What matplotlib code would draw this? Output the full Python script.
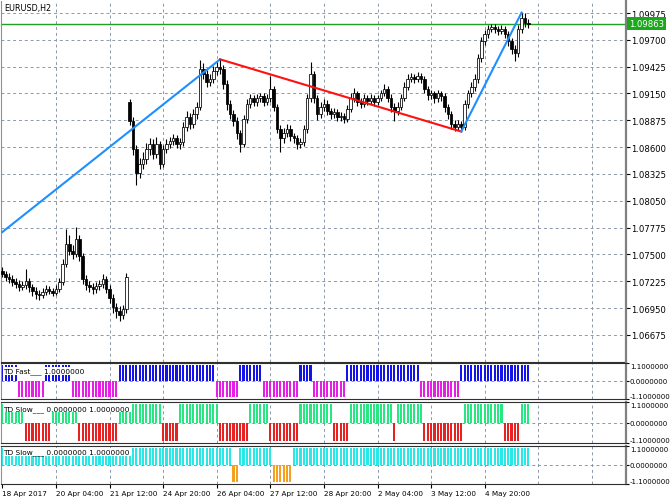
import numpy as np
import matplotlib.pyplot as plt
from matplotlib.transforms import blended_transform_factory

plt.rcParams['font.family'] = ['DejaVu Sans']
plt.rcParams['font.size'] = 6
plt.rcParams['axes.unicode_minus'] = False

W, H = 670, 502

# EURUSD H2 bars, first bar 18 Apr 2017 20:00
o = [1.0733, 1.0730, 1.0727, 1.0725, 1.0722, 1.0720, 1.0717, 1.0719, 1.0723, 1.0717,
     1.0713, 1.0710, 1.0708, 1.0712, 1.0715, 1.0713, 1.0711, 1.0715, 1.0722, 1.0740,
     1.0761, 1.0754, 1.0751, 1.0766, 1.0748, 1.0725, 1.0719, 1.0717, 1.0715, 1.0718,
     1.0720, 1.0725, 1.0715, 1.0705, 1.0696, 1.0692, 1.0688, 1.0694, 1.0906, 1.0887,
     1.0858, 1.0833, 1.0843, 1.0848, 1.0858, 1.0863, 1.0853, 1.0863, 1.0843, 1.0858,
     1.0863, 1.0866, 1.0869, 1.0863, 1.0865, 1.0881, 1.0891, 1.0884, 1.0894, 1.0901,
     1.0940, 1.0935, 1.0927, 1.0930, 1.0938, 1.0942, 1.0940, 1.0925, 1.0904, 1.0894,
     1.0887, 1.0874, 1.0863, 1.0889, 1.0904, 1.0910, 1.0906, 1.0910, 1.0912, 1.0906,
     1.0910, 1.0920, 1.0901, 1.0879, 1.0869, 1.0874, 1.0879, 1.0871, 1.0869, 1.0863,
     1.0865, 1.0879, 1.0910, 1.0935, 1.0910, 1.0894, 1.0901, 1.0904, 1.0897, 1.0894,
     1.0896, 1.0891, 1.0892, 1.0889, 1.0899, 1.0910, 1.0915, 1.0906, 1.0904, 1.0910,
     1.0907, 1.0910, 1.0906, 1.0910, 1.0915, 1.0920, 1.0910, 1.0901, 1.0897, 1.0901,
     1.0910, 1.0922, 1.0930, 1.0932, 1.0930, 1.0933, 1.0930, 1.0920, 1.0913, 1.0915,
     1.0910, 1.0915, 1.0912, 1.0901, 1.0894, 1.0884, 1.0881, 1.0884, 1.0881, 1.0904,
     1.0915, 1.0922, 1.0930, 1.0951, 1.0969, 1.0976, 1.0981, 1.0983, 1.0981, 1.0979,
     1.0981, 1.0976, 1.0969, 1.0961, 1.0956, 1.0981, 1.0992, 1.0987]
h = [1.0737, 1.0733, 1.0731, 1.0729, 1.0726, 1.0724, 1.0723, 1.0735, 1.0726, 1.0720,
     1.0717, 1.0714, 1.0716, 1.0719, 1.0718, 1.0716, 1.0719, 1.0726, 1.0745, 1.0776,
     1.0770, 1.0760, 1.0778, 1.0770, 1.0752, 1.0729, 1.0723, 1.0721, 1.0722, 1.0724,
     1.0730, 1.0728, 1.0719, 1.0709, 1.0700, 1.0697, 1.0698, 1.0731, 1.0909, 1.0891,
     1.0862, 1.0849, 1.0855, 1.0864, 1.0869, 1.0868, 1.0870, 1.0866, 1.0862, 1.0868,
     1.0870, 1.0873, 1.0872, 1.0869, 1.0886, 1.0897, 1.0895, 1.0899, 1.0906, 1.0949,
     1.0946, 1.0939, 1.0935, 1.0943, 1.0947, 1.0950, 1.0944, 1.0929, 1.0908, 1.0898,
     1.0891, 1.0878, 1.0893, 1.0909, 1.0914, 1.0913, 1.0914, 1.0916, 1.0915, 1.0914,
     1.0933, 1.0923, 1.0904, 1.0883, 1.0880, 1.0884, 1.0883, 1.0875, 1.0872, 1.0869,
     1.0883, 1.0914, 1.0947, 1.0938, 1.0913, 1.0906, 1.0909, 1.0908, 1.0900, 1.0900,
     1.0899, 1.0896, 1.0895, 1.0903, 1.0915, 1.0921, 1.0918, 1.0910, 1.0914, 1.0913,
     1.0914, 1.0913, 1.0913, 1.0919, 1.0925, 1.0923, 1.0914, 1.0905, 1.0906, 1.0914,
     1.0927, 1.0935, 1.0936, 1.0935, 1.0937, 1.0936, 1.0933, 1.0923, 1.0919, 1.0918,
     1.0919, 1.0918, 1.0915, 1.0904, 1.0897, 1.0888, 1.0888, 1.0887, 1.0908, 1.0919,
     1.0927, 1.0935, 1.0955, 1.0973, 1.0980, 1.0985, 1.0986, 1.0986, 1.0984, 1.0985,
     1.0984, 1.0979, 1.0972, 1.0965, 1.0985, 1.0998, 1.0997, 1.0991]
l = [1.0727, 1.0723, 1.0721, 1.0718, 1.0716, 1.0713, 1.0714, 1.0715, 1.0712, 1.0707,
     1.0704, 1.0703, 1.0705, 1.0708, 1.0709, 1.0707, 1.0708, 1.0712, 1.0719, 1.0737,
     1.0749, 1.0745, 1.0747, 1.0743, 1.0720, 1.0714, 1.0712, 1.0710, 1.0711, 1.0714,
     1.0716, 1.0711, 1.0700, 1.0690, 1.0685, 1.0682, 1.0684, 1.0690, 1.0883, 1.0852,
     1.0821, 1.0828, 1.0838, 1.0843, 1.0852, 1.0848, 1.0849, 1.0838, 1.0840, 1.0854,
     1.0859, 1.0862, 1.0859, 1.0858, 1.0861, 1.0877, 1.0879, 1.0880, 1.0889, 1.0898,
     1.0930, 1.0922, 1.0923, 1.0926, 1.0934, 1.0935, 1.0920, 1.0898, 1.0889, 1.0882,
     1.0868, 1.0855, 1.0860, 1.0885, 1.0900, 1.0902, 1.0902, 1.0906, 1.0902, 1.0903,
     1.0906, 1.0897, 1.0874, 1.0855, 1.0864, 1.0870, 1.0866, 1.0864, 1.0858, 1.0859,
     1.0861, 1.0875, 1.0906, 1.0905, 1.0888, 1.0890, 1.0897, 1.0893, 1.0889, 1.0890,
     1.0887, 1.0887, 1.0885, 1.0886, 1.0896, 1.0906, 1.0902, 1.0900, 1.0901, 1.0903,
     1.0904, 1.0902, 1.0903, 1.0907, 1.0912, 1.0906, 1.0896, 1.0887, 1.0893, 1.0898,
     1.0907, 1.0919, 1.0927, 1.0926, 1.0927, 1.0926, 1.0915, 1.0908, 1.0909, 1.0905,
     1.0906, 1.0907, 1.0896, 1.0889, 1.0879, 1.0877, 1.0878, 1.0876, 1.0878, 1.0900,
     1.0911, 1.0918, 1.0926, 1.0947, 1.0965, 1.0972, 1.0978, 1.0977, 1.0975, 1.0976,
     1.0972, 1.0964, 1.0955, 1.0948, 1.0952, 1.0977, 1.0983, 1.0982]
c = [1.0730, 1.0727, 1.0725, 1.0722, 1.0720, 1.0717, 1.0719, 1.0723, 1.0717, 1.0713,
     1.0710, 1.0708, 1.0712, 1.0715, 1.0713, 1.0711, 1.0715, 1.0722, 1.0740, 1.0761,
     1.0754, 1.0751, 1.0766, 1.0748, 1.0725, 1.0719, 1.0717, 1.0715, 1.0718, 1.0720,
     1.0725, 1.0715, 1.0705, 1.0696, 1.0692, 1.0688, 1.0694, 1.0727, 1.0887, 1.0858,
     1.0833, 1.0843, 1.0848, 1.0858, 1.0863, 1.0853, 1.0863, 1.0843, 1.0858, 1.0863,
     1.0866, 1.0869, 1.0863, 1.0865, 1.0881, 1.0891, 1.0884, 1.0894, 1.0901, 1.0940,
     1.0935, 1.0927, 1.0930, 1.0938, 1.0942, 1.0940, 1.0925, 1.0904, 1.0894, 1.0887,
     1.0874, 1.0863, 1.0889, 1.0904, 1.0910, 1.0906, 1.0910, 1.0912, 1.0906, 1.0910,
     1.0920, 1.0901, 1.0879, 1.0869, 1.0874, 1.0879, 1.0871, 1.0869, 1.0863, 1.0865,
     1.0879, 1.0910, 1.0935, 1.0910, 1.0894, 1.0901, 1.0904, 1.0897, 1.0894, 1.0896,
     1.0891, 1.0892, 1.0889, 1.0899, 1.0910, 1.0915, 1.0906, 1.0904, 1.0910, 1.0907,
     1.0910, 1.0906, 1.0910, 1.0915, 1.0920, 1.0910, 1.0901, 1.0897, 1.0901, 1.0910,
     1.0922, 1.0930, 1.0932, 1.0930, 1.0933, 1.0930, 1.0920, 1.0913, 1.0915, 1.0910,
     1.0915, 1.0912, 1.0901, 1.0894, 1.0884, 1.0881, 1.0884, 1.0881, 1.0904, 1.0915,
     1.0922, 1.0930, 1.0951, 1.0969, 1.0976, 1.0981, 1.0983, 1.0981, 1.0979, 1.0981,
     1.0976, 1.0969, 1.0961, 1.0956, 1.0981, 1.0992, 1.0987, 1.0986]

# zigzag pivots (bar index, price)
zz_bar = [0, 65, 137, 155]
zz_price = [1.0773, 1.0950, 1.0876, 1.0998]
zz_colors = ['#1e8fff', '#ff1010', '#1e8fff']

# indicator histograms as (value, number of bars)
td_fast_val = [1, -1, 1, -1, 1, -1, 1, -1, 1, -1, 1, -1, 1]
td_fast_len = [5, 8, 8, 14, 29, 7, 7, 11, 4, 10, 22, 12, 21]
td_slow_val = [1, -1, 1, -1, 1, -1, 1, -1, 1, -1, 1, -1, 1, -1, 1, -1, 1, -1, 1]
td_slow_len = [7, 8, 8, 12, 13, 5, 12, 9, 6, 9, 10, 5, 13, 1, 8, 12, 12, 5, 3]
td_slow2_val = [1, -1, 1, -1, 1]
td_slow2_len = [69, 2, 10, 6, 71]

date_bars = [0, 16, 32, 48, 64, 80, 96, 112, 128, 144]
date_labels = ['18 Apr 2017', '20 Apr 04:00', '21 Apr 12:00', '24 Apr 20:00',
               '26 Apr 04:00', '27 Apr 12:00', '28 Apr 20:00', '2 May 04:00',
               '3 May 12:00', '4 May 20:00']
grid_bars = [16, 32, 48, 64, 80, 96, 112, 128, 144, 160, 176]
price_ticks = [1.09975, 1.09700, 1.09425, 1.09150, 1.08875, 1.08600, 1.08325,
               1.08050, 1.07775, 1.07500, 1.07225, 1.06950, 1.06675]
last_price = 1.09863

grid_kw = dict(color='#8a98a8', lw=0.7, ls=(0, (3, 3)), zorder=0)
xlim = (-0.4, 186.17)


def rect(left, top, right, bottom):
    return [left / W, 1 - bottom / H, (right - left) / W, (bottom - top) / H]


fig = plt.figure(figsize=(W / 100, H / 100), dpi=100)
ax = fig.add_axes(rect(1, 2, 626, 363))
p1 = fig.add_axes(rect(1, 364, 626, 400))
p2 = fig.add_axes(rect(1, 403, 626, 444))
p3 = fig.add_axes(rect(1, 447, 626, 485))

x = np.arange(len(c))
o_a, h_a, l_a, c_a = map(np.array, (o, h, l, c))

# main price window
ax.vlines(x, l_a, h_a, color='black', lw=0.8, zorder=3)
up = c_a >= o_a
body = np.maximum(np.abs(c_a - o_a), 0.00003)
ax.bar(x[up], body[up], bottom=o_a[up], width=0.75, color='white',
       edgecolor='black', linewidth=0.55, zorder=4)
ax.bar(x[~up], body[~up], bottom=c_a[~up], width=0.75, color='black',
       edgecolor='black', linewidth=0.55, zorder=4)

for k in range(len(zz_bar) - 1):
    ax.plot(zz_bar[k:k + 2], zz_price[k:k + 2], color=zz_colors[k], lw=1.5, zorder=5)

ax.axhline(last_price, color='#22a022', lw=1.0, zorder=2)
for p in price_ticks:
    ax.axhline(p, **grid_kw)

ax.set_ylim(1.06398, 1.10098)
ax.set_yticks(price_ticks)
ax.set_yticklabels(['%.5f' % p for p in price_ticks])
ax.yaxis.tick_right()
ax.tick_params(axis='y', length=2.9, width=0.8, pad=0.8, colors='black', labelsize=6.1)
ax.set_xticks([])
trans = blended_transform_factory(ax.transAxes, ax.transData)
ax.text(1.0055, last_price, '%.5f' % last_price, transform=trans, ha='left',
        va='center', color='white', fontsize=6.1,
        bbox=dict(facecolor='#1ca81c', edgecolor='none', pad=1.4))
fig.text(4 / W, 1 - 8 / H, 'EURUSD,H2', ha='left', va='center', fontsize=5.8)

# indicator windows
panels = [
    (p1, td_fast_val, td_fast_len, '#1414e6', '#e61ee6', 'TD Fast___ 1.0000000', 0.78),
    (p2, td_slow_val, td_slow_len, '#28e682', '#e82222', 'TD Slow___ 0.0000000 1.0000000', 0.85),
    (p3, td_slow2_val, td_slow2_len, '#28e8e8', '#f5a01e', 'TD Slow___ 0.0000000 1.0000000', 0.84),
]
for pax, vals, lens, pos_col, neg_col, label, ty in panels:
    v = np.repeat(vals, lens)
    cols = [pos_col if s > 0 else neg_col for s in v]
    pax.bar(x, v, width=0.62, color=cols, zorder=2)
    pax.axhline(0, **grid_kw)
    pax.set_ylim(-1.1, 1.1)
    pax.set_yticks([1.1, 0.0, -1.1])
    pax.set_yticklabels(['1.1000000', '0.0000000', '-1.1000000'])
    pax.yaxis.tick_right()
    pax.tick_params(axis='y', length=2.2, width=0.8, pad=0.5, labelsize=5.0)
    tl = pax.get_yticklabels()
    tl[0].set_va('top')
    tl[2].set_va('bottom')
    pax.text(0.004, ty, label, transform=pax.transAxes, ha='left', va='center',
             fontsize=5.3, zorder=6,
             bbox=dict(facecolor='white', edgecolor='none', pad=0.6))
    pax.set_xticks([])

for a in (ax, p1, p2, p3):
    a.set_xlim(*xlim)
    for g in grid_bars:
        a.axvline(g, **grid_kw)
    a.set_facecolor('white')
    for side in ('left', 'bottom', 'top'):
        a.spines[side].set_color('#303030')
        a.spines[side].set_linewidth(0.8)
    a.spines['left'].set_color('#909090')
    a.spines['right'].set_color('#808080')
    a.spines['right'].set_linewidth(1.6)
ax.spines['top'].set_visible(False)

p3.set_xticks(date_bars)
p3.set_xticklabels(date_labels)
for t in p3.get_xticklabels():
    t.set_ha('left')
p3.tick_params(axis='x', length=3, width=0.8, pad=1.5, labelsize=5.2)

fig.savefig('out.png', dpi=100)
